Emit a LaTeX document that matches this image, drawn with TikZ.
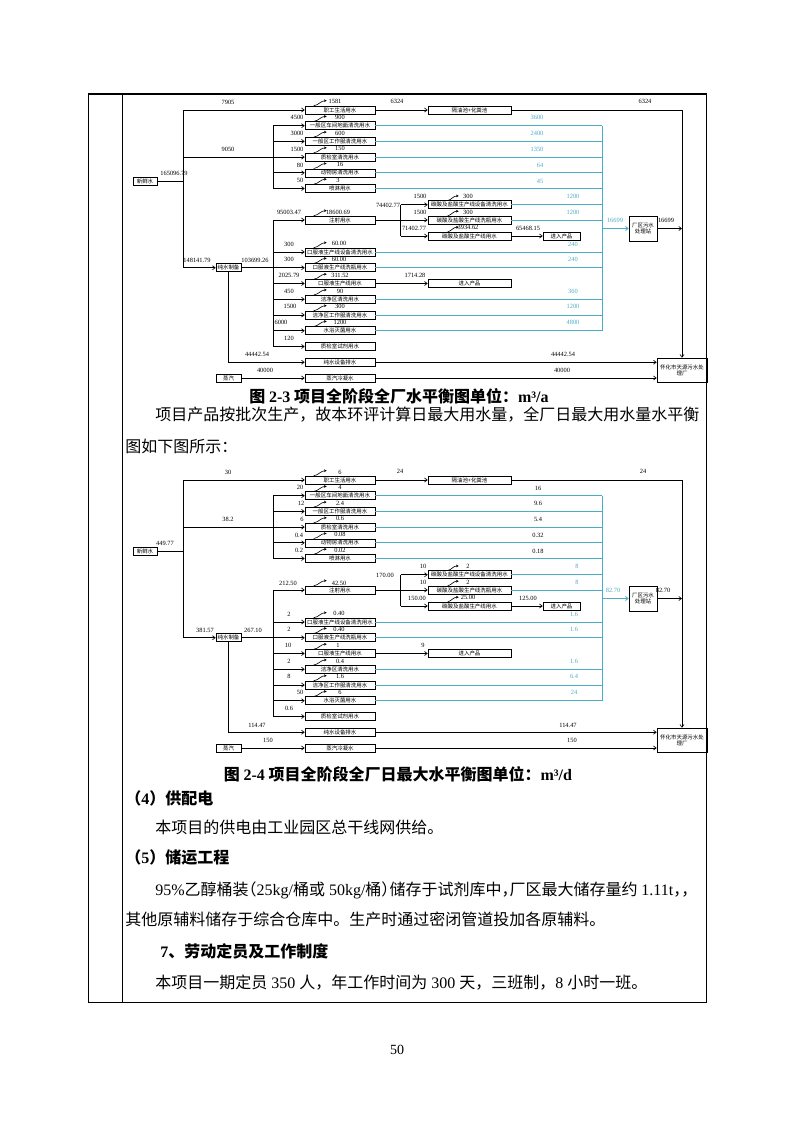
\documentclass[tikz,border=0pt]{standalone}
\usepackage{fontspec}
\setmainfont{Liberation Serif}
\newfontfamily\cjk{Noto Sans CJK SC}
\usetikzlibrary{arrows.meta,calc}
\definecolor{wblue}{RGB}{75,172,198}
\newcommand\lat[1]{{\rmfamily #1}}
\newcommand\lp{\hbox to 0.5em{\hss（}}
\newcommand\rp{\hbox to 0.5em{）\hss}}
\newcommand\cm{\hbox to 0.5em{，\hss}}
\def\spreadit#1{\ifx\relax#1\else#1\hfil\expandafter\spreadit\fi}
\newcommand\lab[5][num]{\node[#1] (#2) at (#3,#4) {#5};}
\tikzset{
 bx/.style={draw, line width=0.45pt, inner sep=0pt, minimum width=52.5pt, minimum height=6pt, font=\cjk\fontsize{4.1}{4.6}\selectfont},
 rbx/.style={bx, minimum width=62.25pt},
 num/.style={inner sep=0pt, font=\fontsize{4.8}{5}\selectfont},
 bnum/.style={num, text=wblue},
 ln/.style={line width=0.5pt},
 ar/.style={ln, -{Straight Barb[length=2pt,width=3pt]}},
 bl/.style={line width=0.6pt, draw=wblue},
 bar/.style={bl, -{Straight Barb[length=2pt,width=3pt]}},
 ca/.style={line width=0.45pt, -{Stealth[length=2pt,width=2pt]}},
 bodytxt/.style={inner sep=0pt, anchor=base west, font=\cjk\fontsize{12}{14}\selectfont},
 captxt/.style={inner sep=0pt, anchor=base, font=\cjk\bfseries\fontsize{12}{14}\selectfont},
}
\newcommand\curveL[1]{\draw[ca] ($(#1.north west)+(9,0)$) .. controls ($(#1.north west)+(14,-0.5)$) and ($(#1.north west)+(16,-5)$) .. ($(#1.north west)+(22,-5)$);}
\newcommand\curveR[1]{\draw[ca] ($(#1.north west)+(20,0)$) .. controls ($(#1.north west)+(24,-0.5)$) and ($(#1.north west)+(25,-4.5)$) .. ($(#1.north west)+(31,-4.5)$);}
\newcommand\wdiag[1]{%
 \node[bx, minimum width=18pt] (#1xx) at (145,181) {新鲜水};
 \node[bx, minimum width=18.75pt] (#1cs) at (228.5,267.75) {纯水制备};
 \node[bx, minimum width=18.75pt] (#1zq) at (228.5,378) {蒸汽};
 \node[bx] (#1r1) at (340,110) {职工生活用水};
 \node[bx] (#1r2) at (340,125.7) {一般区车间地面清洗用水};
 \node[bx] (#1r3) at (340,141.4) {一般区工作服清洗用水};
 \node[bx] (#1r4) at (340,157.1) {质检室清洗用水};
 \node[bx] (#1r5) at (340,172.8) {动物房清洗用水};
 \node[bx] (#1r6) at (340,188.5) {喷淋用水};
 \node[bx] (#1r7) at (340,220) {注射用水};
 \node[bx] (#1r8) at (340,252) {口服液生产线设备清洗用水};
 \node[bx] (#1r9) at (340,267.75) {口服液生产线洗瓶用水};
 \node[bx] (#1r10) at (340,283.5) {口服液生产线用水};
 \node[bx] (#1r11) at (340,299.25) {洁净区清洗用水};
 \node[bx] (#1r12) at (340,315) {洁净区工作服清洗用水};
 \node[bx] (#1r13) at (340,330.75) {水浴灭菌用水};
 \node[bx] (#1r14) at (340,346.5) {质检室试剂用水};
 \node[bx] (#1r15) at (340,362.25) {纯水设备排水};
 \node[bx] (#1r16) at (340,378) {蒸汽冷凝水};
 \node[rbx] (#1hf) at (469.5,110) {隔油池+化粪池};
 \node[rbx] (#1c1) at (469.5,204.75) {碳酸及盐酸生产线设备清洗用水};
 \node[rbx] (#1c2) at (469.5,220) {碳酸及盐酸生产线洗瓶用水};
 \node[rbx] (#1c3) at (469.5,236) {碳酸及盐酸生产线用水};
 \node[bx, minimum width=27.75pt] (#1p1) at (561.5,236) {进入产品};
 \node[rbx] (#1p2) at (469.5,283.5) {进入产品};
 \node[bx, minimum width=21pt, minimum height=18.75pt, align=center] (#1wc) at (643,228.5) {厂区污水\\处理站};
 \node[bx, minimum width=37.5pt, minimum height=18pt, align=center] (#1hh) at (682,370) {怀化市天源污水处\\理厂};
 \coordinate (#1t0) at (183,110);
 \coordinate (#1t1) at (183,267.75);
 \coordinate (#1tm) at (183,157.1);
 \coordinate (#1v1) at (273,125.7);
 \coordinate (#1v2) at (273,188.5);
 \coordinate (#1v3) at (273,220);
 \coordinate (#1v4) at (273,346.5);
 \coordinate (#1rv) at (682,110);
 \coordinate (#1cv1) at (400.7,204.75);
 \coordinate (#1cv2) at (400.7,236);
 \coordinate (#1bv1) at (602,125.7);
 \coordinate (#1bv2) at (602,330.75);
 \draw[ln] (#1xx.east) -- (#1xx.east -| #1t0);
 \draw[ln] (#1t0) -- (#1t1);
 \draw[ar] (#1t0) -- (#1r1.west);
 \draw[ln] (#1tm) -- (#1tm -| #1v1);
 \draw[ln] (#1v1) -- (#1v2);
 \foreach \i in {2,...,6} {\draw[ar] (#1r\i.west -| #1v1) -- (#1r\i.west);}
 \draw[ar] (#1t1) -- (#1cs.west);
 \draw[ln] (#1cs.east) -- (#1cs.east -| #1v3);
 \draw[ln] (#1v3) -- (#1v4);
 \foreach \i in {7,...,14} {\draw[ar] (#1r\i.west -| #1v3) -- (#1r\i.west);}
 \draw[ar] (#1cs.south) |- (#1r15.west);
 \draw[ar] (#1zq.east) -- (#1r16.west);
 \draw[ar] (#1r1.east) -- (#1hf.west);
 \draw[ar] (#1hf.east) -- (#1rv) -- (#1hh.north);
 \draw[ln] (#1r7.east) -- (#1r7.east -| #1cv1);
 \draw[ln] (#1cv1) -- (#1cv2);
 \foreach \i in {1,2,3} {\draw[ar] (#1c\i.west -| #1cv1) -- (#1c\i.west);}
 \draw[ar] (#1c3.east) -- (#1p1.west);
 \draw[ar] (#1r10.east) -- (#1p2.west);
 \foreach \n in {r2,r3,r4,r5,r6,c1,c2,r8,r9,r11,r12,r13} {\draw[bl] (#1\n.east) -- (#1\n.east -| #1bv1);}
 \draw[bl] (#1bv1) -- (#1bv2);
 \draw[bar] (#1wc.west -| #1bv1) -- (#1wc.west);
 \draw[ar] (#1wc.east) -- (#1wc.east -| #1rv);
 \draw[ar] (#1r15.east) -- (#1r15.east -| #1hh.west);
 \draw[ar] (#1r16.east) -- (#1r16.east -| #1hh.west);
 \foreach \n in {r1,r2,r3,r4,r5,r6,r7,r8,r9,r10,r11,r12,r13} {\curveL{#1\n}}
 \foreach \n in {c1,c2,c3} {\curveR{#1\n}}
}
\begin{document}
\begin{tikzpicture}[x=0.75pt,y=-0.75pt]
\useasboundingbox (0,0) rectangle (793,1122);
\fill[white] (0,0) rectangle (793,1122);
% table frame
\draw[line width=1.3pt] (88,94) -- (706,94);
\draw[line width=0.6pt] (88,93) -- (88,1002) -- (706,1002) -- (706,93);
\draw[line width=0.6pt] (122,93) -- (122,1002);
% ---------- diagram 1 ----------
\begin{scope}
\wdiag{T}
\lab{Ta1}{174}{173}{165096.79}
\lab{Ta2}{228}{102}{7905}
\lab{Ta3}{335}{101.5}{1581}
\lab{Ta4}{397}{101.5}{6324}
\lab{Ta5}{645}{101.5}{6324}
\lab{Ta6}{228}{149}{9050}
\lab{Tb1}{297}{117.7}{4500}\lab{Tb2}{340}{117.2}{900}\lab[bnum]{Tb3}{537}{117.7}{3600}
\lab{Tc1}{297}{133.3}{3000}\lab{Tc2}{340}{133}{600}\lab[bnum]{Tc3}{537}{133.3}{2400}
\lab{Td1}{297}{149}{1500}\lab{Td2}{340}{148.5}{150}\lab[bnum]{Td3}{537}{149}{1350}
\lab{Te1}{300}{165}{80}\lab{Te2}{340}{164.5}{16}\lab[bnum]{Te3}{540}{165}{64}
\lab{Tf1}{300}{180.7}{50}\lab{Tf2}{338}{180.2}{3}\lab[bnum]{Tf3}{540}{181}{45}
\lab{Tg1}{197}{260}{148141.79}
\lab{Tg2}{255}{260}{103699.26}
\lab{Th1}{289}{212.5}{95003.47}\lab{Th2}{338}{212}{18600.69}
\lab{Th3}{388}{205}{74402.77}
\lab{Ti1}{420}{196.5}{1500}\lab{Ti2}{468}{196.5}{300}\lab[bnum]{Ti3}{573}{196.5}{1200}
\lab{Tj1}{420}{212}{1500}\lab{Tj2}{468}{212}{300}\lab[bnum]{Tj3}{573}{212}{1200}
\lab{Tk1}{414}{228}{71402.77}\lab{Tk2}{468}{227.5}{3934.62}\lab{Tk3}{528}{228}{65468.15}
\lab[bnum]{Tl1}{615}{220}{16699}\lab{Tl2}{666}{220}{16699}
\lab{Tm1}{289}{244}{300}\lab{Tm2}{339}{243.5}{60.00}\lab[bnum]{Tm3}{573}{244}{240}
\lab{Tn1}{289}{259.7}{300}\lab{Tn2}{339}{259.2}{60.00}\lab[bnum]{Tn3}{573}{259.5}{240}
\lab{To1}{289}{275}{2025.79}\lab{To2}{340}{275}{311.52}\lab{To3}{415}{275}{1714.28}
\lab{Tp1}{289}{291}{450}\lab{Tp2}{340}{291}{90}\lab[bnum]{Tp3}{573}{291}{360}
\lab{Tq1}{290}{306.7}{1500}\lab{Tq2}{340}{306.5}{300}\lab[bnum]{Tq3}{573}{306.7}{1200}
\lab{Tr1}{281}{322}{6000}\lab{Tr2}{340}{322}{1200}\lab[bnum]{Tr3}{573}{322}{4800}
\lab{Ts1}{289}{338}{120}
\lab{Tu1}{257}{354}{44442.54}\lab{Tu2}{563}{354}{44442.54}
\lab{Tw1}{265}{370}{40000}\lab{Tw2}{562}{370}{40000}
\end{scope}
% ---------- diagram 2 ----------
\begin{scope}[shift={(0,370)}]
\wdiag{B}
\lab{Ba1}{165}{173}{449.77}
\lab{Ba2}{228}{102}{30}
\lab{Ba3}{340}{102}{6}
\lab{Ba4}{400}{101.5}{24}
\lab{Ba5}{643}{101.5}{24}
\lab{Ba6}{228}{149}{38.2}
\lab{Bb1}{300}{117.7}{20}\lab{Bb2}{340}{117.2}{4}\lab{Bb3}{538}{118}{16}
\lab{Bc1}{301}{133.3}{12}\lab{Bc2}{340}{133}{2.4}\lab{Bc3}{538}{133.5}{9.6}
\lab{Bd1}{302}{149}{6}\lab{Bd2}{340}{148.5}{0.6}\lab{Bd3}{538}{149}{5.4}
\lab{Be1}{299}{165}{0.4}\lab{Be2}{340}{164.5}{0.08}\lab{Be3}{538}{165}{0.32}
\lab{Bf1}{299}{180.7}{0.2}\lab{Bf2}{340}{180.2}{0.02}\lab{Bf3}{538}{181}{0.18}
\lab{Bg1}{205}{260}{381.57}
\lab{Bg2}{253}{260}{267.10}
\lab{Bh1}{288}{213}{212.50}\lab{Bh2}{339}{213}{42.50}
\lab{Bh3}{385}{205}{170.00}
\lab{Bi1}{423}{196.5}{10}\lab{Bi2}{468}{196.5}{2}\lab[bnum]{Bi3}{577}{196.5}{8}
\lab{Bj1}{423}{212}{10}\lab{Bj2}{468}{212}{2}\lab[bnum]{Bj3}{577}{212}{8}
\lab{Bk1}{417}{228}{150.00}\lab{Bk2}{468}{227.5}{25.00}\lab{Bk3}{528}{228}{125.00}
\lab[bnum]{Bl1}{613}{220}{82.70}\lab{Bl2}{663}{220}{82.70}
\lab{Bm1}{289}{244}{2}\lab{Bm2}{339}{243.5}{0.40}\lab[bnum]{Bm3}{574}{244}{1.6}
\lab{Bn1}{289}{259.7}{2}\lab{Bn2}{339}{259.2}{0.40}\lab[bnum]{Bn3}{574}{259.5}{1.6}
\lab{Bo1}{288}{275}{10}\lab{Bo2}{338}{275}{1}\lab{Bo3}{423}{275}{9}
\lab{Bp1}{289}{291}{2}\lab{Bp2}{340}{291}{0.4}\lab[bnum]{Bp3}{574}{291}{1.6}
\lab{Bq1}{289}{306.7}{8}\lab{Bq2}{340}{306.5}{1.6}\lab[bnum]{Bq3}{574}{306.7}{6.4}
\lab{Br1}{300}{322}{50}\lab{Br2}{340}{322}{6}\lab[bnum]{Br3}{574}{322}{24}
\lab{Bs1}{289}{338}{0.6}
\lab{Bu1}{257}{355}{114.47}\lab{Bu2}{568}{355}{114.47}
\lab{Bw1}{268}{370}{150}\lab{Bw2}{572}{370}{150}
\end{scope}
% ---------- text ----------
\node[captxt] (cap1) at (399,402.5) {图 \lat{2-3} 项目全阶段全厂水平衡图单位：\lat{m³/a}};
\node[bodytxt] (t1) at (155,420) {\hbox to 405pt{\spreadit 项目产品按批次生产，故本环评计算日最大用水量，全厂日最大用水量水平衡\relax\unskip}};
\node[bodytxt] (t2) at (125,452) {图如下图所示：};
\node[captxt] (cap2) at (398,780) {图 \lat{2-4} 项目全阶段全厂日最大水平衡图单位：\lat{m³/d}};
\node[bodytxt, font=\cjk\bfseries\fontsize{12}{14}\selectfont] (h4) at (125,804) {（\lat{\bfseries 4}）供配电};
\node[bodytxt] (t3) at (155,833) {本项目的供电由工业园区总干线网供给。};
\node[bodytxt, font=\cjk\bfseries\fontsize{12}{14}\selectfont] (h5) at (125,863) {（\lat{\bfseries 5}）储运工程};
\node[bodytxt] (t4) at (155,895) {\lat{95\%}乙醇桶装\lp\lat{25kg/}桶或\lat{ 50kg/}桶\rp 储存于试剂库中\cm 厂区最大储存量约\lat{ 1.11t}\cm\cm};
\node[bodytxt] (t5) at (125,925) {其他原辅料储存于综合仓库中。生产时通过密闭管道投加各原辅料。};
\node[bodytxt, font=\cjk\bfseries\fontsize{12}{14}\selectfont] (h7) at (160,957) {\lat{\bfseries 7}、劳动定员及工作制度};
\node[bodytxt] (t6) at (155,988) {本项目一期定员\lat{ 350 }人，年工作时间为\lat{ 300 }天，三班制，\lat{8 }小时一班。};
\node[inner sep=0pt, anchor=base, font=\fontsize{10.5}{12}\selectfont] (pg) at (397,1054) {50};
\end{tikzpicture}
\end{document}
